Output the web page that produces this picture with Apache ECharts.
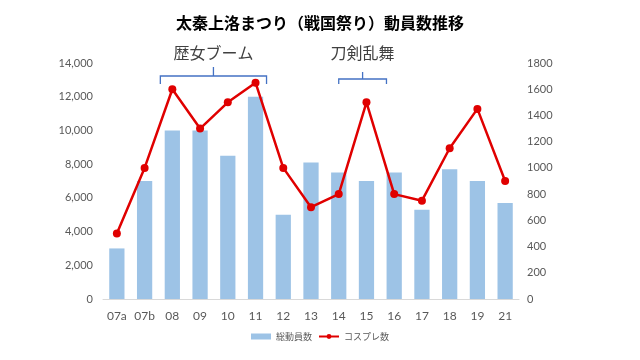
<!DOCTYPE html>
<html><head><meta charset="utf-8">
<script src="https://cdn.jsdelivr.net/npm/echarts@6/dist/echarts.min.js"></script>
<style>html,body{margin:0;padding:0;background:#fff}#c{width:640px;height:360px}</style>
</head><body><div id="c"></div>
<script>
const categories = ['07a','07b','08','09','10','11','12','13','14','15','16','17','18','19','21'];
const totalVisitors = [3000,7000,10000,10000,8500,12000,5000,8100,7500,7000,7500,5300,7700,7000,5700];
const cosplayers = [500,1000,1600,1300,1500,1650,1000,700,800,1500,800,750,1150,1450,900];
const leftTicks = {min:0,max:14000,interval:2000};
const rightTicks = {min:0,max:1800,interval:200};
const annotations = [
  {text:'歴女ブーム', from:2, fromDx:-12, to:5, toDx:11, yLine:76, yEnd:84, yTip:67, yText:53},
  {text:'刀剣乱舞', from:8, fromDx:0, to:9, toDx:20, yLine:79, yEnd:84, yTip:72, yText:53}
];
const FONT = 'Lato, "Noto Sans CJK JP", sans-serif';
const JP = '"Noto Sans CJK JP", sans-serif';
const chart = echarts.init(document.getElementById('c'));
chart.setOption({
  animation:false,
  title:{text:'太秦上洛まつり（戦国祭り）動員数推移',left:'center',top:10,
    textStyle:{fontFamily:JP,fontSize:16,fontWeight:'bold',color:'#000'}},
  grid:{left:103,right:121,top:63,bottom:61},
  legend:{bottom:14,left:'center',itemGap:6,itemWidth:20,itemHeight:6,
    textStyle:{fontFamily:JP,fontSize:9,color:'#595959'},
    data:[{name:'総動員数',icon:'rect'},{name:'コスプレ数'}]},
  xAxis:{type:'category',data:categories,
    axisLine:{lineStyle:{color:'#d9d9d9'}},axisTick:{show:false},
    axisLabel:{fontFamily:FONT,fontSize:12,color:'#595959',margin:11}},
  yAxis:[
    {type:'value',min:leftTicks.min,max:leftTicks.max,interval:leftTicks.interval,
     splitLine:{show:false},
     axisLabel:{fontFamily:FONT,fontSize:11,color:'#595959',margin:10,
       formatter:v=>v.toLocaleString('en-US')}},
    {type:'value',min:rightTicks.min,max:rightTicks.max,interval:rightTicks.interval,
     splitLine:{show:false},
     axisLabel:{fontFamily:FONT,fontSize:11,color:'#595959',margin:8,
       formatter:v=>String(v)}}
  ],
  series:[
    {name:'総動員数',type:'bar',data:totalVisitors,barWidth:'55%',
     itemStyle:{color:'#9dc3e6'}},
    {name:'コスプレ数',type:'line',yAxisIndex:1,data:cosplayers,
     symbol:'circle',symbolSize:8,
     lineStyle:{color:'#e00000',width:2.5},itemStyle:{color:'#e00000'}}
  ]
});
function drawBraces(){
  const els = [];
  annotations.forEach(a=>{
    const x1 = chart.convertToPixel({xAxisIndex:0}, a.from) + a.fromDx;
    const x2 = chart.convertToPixel({xAxisIndex:0}, a.to) + a.toDx;
    const xm = (x1+x2)/2;
    els.push({type:'polyline',shape:{points:[[x1,a.yEnd],[x1,a.yLine],[x2,a.yLine],[x2,a.yEnd]]},
      style:{stroke:'#4472c4',lineWidth:1.3,fill:null}});
    els.push({type:'line',shape:{x1:xm,y1:a.yLine,x2:xm,y2:a.yTip},
      style:{stroke:'#4472c4',lineWidth:1.3}});
    els.push({type:'text',x:xm,y:a.yText,style:{text:a.text,fontFamily:JP,fontSize:16,
      fill:'#404040',align:'center',verticalAlign:'middle'}});
  });
  chart.setOption({graphic:{elements:els}});
}
drawBraces();
</script></body></html>
